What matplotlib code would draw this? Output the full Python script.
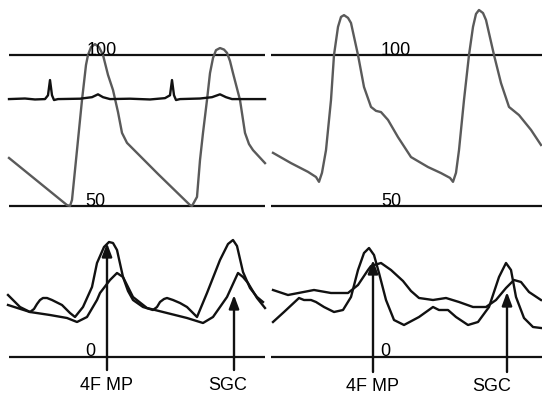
"""
Pressure waveforms (top) and flow traces (bottom) with 4F MP / SGC markers.
"""

import matplotlib.pyplot as plt

plt.rcParams['font.family'] = ['Liberation Sans', 'DejaVu Sans']

# top left: pressure trace (mmHg) and ECG (mV)
tl_t = [9, 38, 67, 70, 72, 77, 82, 86, 88, 91, 95, 99, 103, 108, 113, 118,
        122, 127, 158, 190, 192, 197, 200, 203, 207, 210, 213, 216, 220, 224,
        227, 230, 233, 240, 245, 249, 253, 265]
tl_p = [65.9, 58.1, 50.3, 50.0, 52.0, 68.5, 85.1, 96.7, 100.0, 102.6, 103.6,
        102.6, 100.0, 93.4, 88.4, 81.1, 74.2, 70.9, 60.6, 50.3, 50.0, 53.0,
        65.2, 74.2, 85.1, 94.0, 99.0, 101.6, 102.3, 101.8, 100.7, 98.0, 94.0,
        85.1, 74.2, 70.5, 68.5, 64.2]

ecg_t = [9, 25, 35, 45, 48, 50, 52, 54, 58, 80, 92, 98, 103, 110, 130, 150,
         165, 170, 172, 174, 176, 180, 200, 212, 220, 226, 232, 265]
ecg_v = [0, 0.03, -0.02, 0, 0.2, 1.0, 0.2, -0.05, 0, 0.02, 0.1, 0.25, 0.1, 0,
         0.02, -0.02, 0.05, 0.2, 1.0, 0.2, -0.05, 0, 0.03, 0.1, 0.25, 0.1, 0, 0]

# top right: pressure trace (mmHg)
tr_t = [2, 20, 37, 45, 48, 51, 55, 60, 63, 67, 70, 73, 77, 80, 87, 93, 100,
        105, 110, 117, 127, 140, 157, 170, 179, 182, 185, 188, 193, 198, 202,
        205, 208, 212, 215, 223, 230, 238, 248, 260, 270]
tr_p = [67.6, 64.2, 61.3, 59.6, 58.0, 61.0, 68.5, 85.1, 100.0, 109.3, 112.6,
        113.2, 112.3, 110.6, 100.0, 89.4, 82.8, 81.5, 81.1, 78.5, 72.8, 66.2,
        62.9, 60.9, 59.3, 58.0, 61.0, 68.5, 85.1, 100.0, 109.3, 113.6, 114.9,
        113.9, 111.6, 100.0, 90.7, 82.8, 80.1, 75.2, 70.2]

# bottom left: two flow traces
bl_a_t = [8, 20, 30, 34, 37, 40, 43, 47, 52, 62, 70, 75, 83, 92, 97, 104,
          109, 113, 117, 123, 128, 133, 143, 153, 157, 160, 164, 167, 173,
          180, 187, 197, 207, 220, 228, 233, 237, 243, 250, 257, 263]
bl_a_v = [31, 25, 22.5, 24, 26.5, 28.5, 29.5, 29.5, 28.5, 26, 22, 20, 25, 35,
          47, 55, 57.5, 57, 53.5, 40, 33, 28.5, 25, 23.5, 25, 27.5, 29, 29.5,
          28.5, 27, 25, 20, 32, 48.5, 56.5, 58.5, 55.5, 42.5, 34.5, 30, 27.5]
bl_b_t = [8, 30, 50, 67, 77, 87, 97, 100, 110, 117, 123, 133, 147, 167, 187,
          203, 213, 227, 238, 243, 248, 257, 265]
bl_b_v = [26, 22.5, 21, 19.5, 17.5, 20, 28.5, 32, 38.5, 42, 40, 30, 24.5, 22,
          19.5, 17, 20, 30, 42, 40, 37, 29.5, 24.5]

# bottom right: two flow traces
br_c_t = [2, 13, 28, 33, 40, 45, 53, 63, 72, 80, 87, 93, 98, 103, 108, 115,
          123, 133, 148, 162, 168, 177, 185, 197, 207, 218, 228, 235, 240,
          245, 253, 262, 270]
br_c_v = [17.5, 22.5, 29.5, 28.5, 28.5, 27.5, 25, 22.5, 23.5, 30, 43.5, 52,
          54.5, 51, 42, 28.5, 18.5, 16, 20, 25, 23.5, 23.5, 20, 16, 17.5, 25,
          40, 47, 43.5, 30, 19.5, 15, 14.5]
br_d_t = [2, 17, 43, 60, 77, 87, 97, 100, 110, 120, 132, 140, 148, 162, 175,
          188, 202, 215, 225, 235, 243, 250, 258, 270]
br_d_v = [33.5, 31, 33.5, 32, 32, 36, 43.5, 45.5, 47, 43.5, 38, 33, 29.5,
          28.5, 29.5, 27.5, 25, 25, 28.5, 34.5, 38.5, 37.5, 32.5, 28.5]

# arrow markers: (time, tip value, label)
bl_marks = [(107, 57, "4F MP"), (234, 31, "SGC")]
br_marks = [(102, 48.5, "4F MP"), (236, 32.5, "SGC")]

GRAY = "#5a5a5a"
BLACK = "#111111"
FS = 13
LW = 1.7

fig = plt.figure(figsize=(5.42, 3.97), dpi=100)
top_h = 220 / 397
ax_tl = fig.add_axes([0.0, 1 - top_h, 0.5, top_h])
ax_tr = fig.add_axes([0.5, 1 - top_h, 0.5, top_h])
ax_bl = fig.add_axes([0.0, 0.0, 0.5, 1 - top_h])
ax_br = fig.add_axes([0.5, 0.0, 0.5, 1 - top_h])

for ax in (ax_tl, ax_tr):
    ax.set_xlim(0, 271)
    ax.set_ylim(45.36, 118.21)
for ax in (ax_bl, ax_br):
    ax.set_xlim(0, 271)
    ax.set_ylim(-20, 68.5)
for ax in (ax_tl, ax_tr, ax_bl, ax_br):
    ax.axis("off")

# reference lines
ax_tl.hlines([100, 50], 9, 265, color=BLACK, lw=1.6)
ax_tr.hlines([100, 50], 0, 271, color=BLACK, lw=1.6)
ax_bl.hlines(0, 9, 265, color=BLACK, lw=1.6)
ax_br.hlines(0, 0, 271, color=BLACK, lw=1.6)

# top left
ax_tl.plot(tl_t, tl_p, color=GRAY, lw=LW, solid_joinstyle="round")
ax_tl.plot(ecg_t, [85.4 + 6.3 * v for v in ecg_v], color=BLACK, lw=LW,
           solid_joinstyle="round")
ax_tl.text(102, 100, "100", fontsize=FS, ha="center", va="baseline")
ax_tl.text(95, 50, "50", fontsize=FS, ha="center", va="baseline")

# top right
ax_tr.plot(tr_t, tr_p, color=GRAY, lw=LW, solid_joinstyle="round")
ax_tr.text(125, 100, "100", fontsize=FS, ha="center", va="baseline")
ax_tr.text(120, 50, "50", fontsize=FS, ha="center", va="baseline")

# bottom panels
ax_bl.plot(bl_a_t, bl_a_v, color=BLACK, lw=LW, solid_joinstyle="round")
ax_bl.plot(bl_b_t, bl_b_v, color=BLACK, lw=LW, solid_joinstyle="round")
ax_bl.text(90.5, 0.5, "0", fontsize=FS, ha="center", va="baseline")

ax_br.plot(br_c_t, br_c_v, color=BLACK, lw=LW, solid_joinstyle="round")
ax_br.plot(br_d_t, br_d_v, color=BLACK, lw=LW, solid_joinstyle="round")
ax_br.text(114, 0.5, "0", fontsize=FS, ha="center", va="baseline")


def draw_marks(ax, marks, bottom, label_y, label_dx):
    for (t, tip, label), dx in zip(marks, label_dx):
        ax.annotate("", xy=(t, tip), xytext=(t, bottom),
                    arrowprops=dict(arrowstyle="-|>,head_length=0.8,head_width=0.3",
                                    color=BLACK, lw=LW, shrinkA=0, shrinkB=0),
                    annotation_clip=False)
        ax.text(t + dx, label_y, label, fontsize=FS, ha="center",
                va="baseline", clip_on=False)


draw_marks(ax_bl, bl_marks, -6.5, -16.5, [-1, -6])
draw_marks(ax_br, br_marks, -7.5, -17.2, [-1, -15])

fig.savefig("out.png", dpi=100)
